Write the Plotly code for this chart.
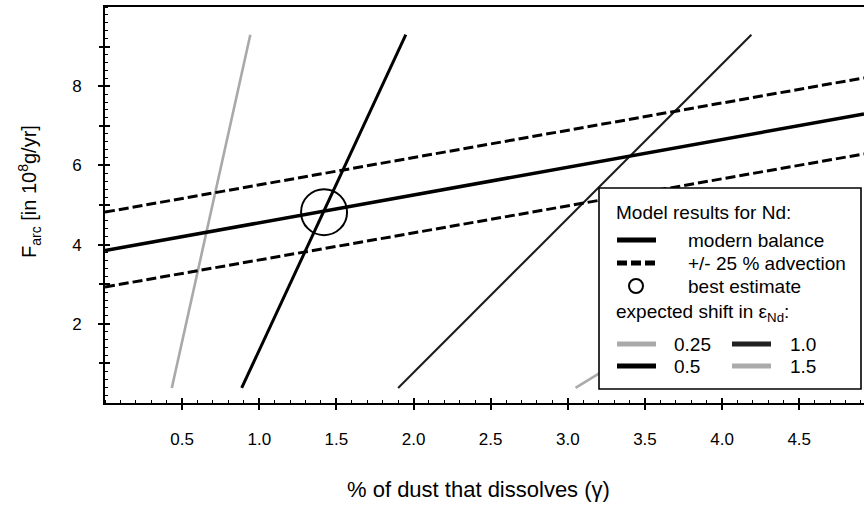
import plotly.graph_objects as go

# Axis extent
x_range = [0.0, 4.92]
y_range = [0.0, 10.0]

# Model results for Nd: flux vs. dissolved dust fraction
balance_x = [0.0, 4.92]
balance_y = [3.85, 7.30]
advect_hi_x = [0.0, 4.92]
advect_hi_y = [4.82, 8.21]
advect_lo_x = [0.0, 4.92]
advect_lo_y = [2.93, 6.29]

best_x = [1.42]
best_y = [4.82]

# Lines of equal expected shift in epsilon Nd
shift_labels = ["0.25", "0.5", "1.0", "1.5"]
shift_x = [[0.433, 0.942], [0.886, 1.95], [1.90, 4.19], [3.05, 4.86]]
shift_y = [[0.38, 9.30], [0.38, 9.30], [0.38, 9.30], [0.38, 4.70]]
shift_color = ["#a9a9a9", "#000000", "#1c1c1c", "#ababab"]
shift_width = [2.6, 3.0, 2.1, 2.6]

x_ticks = [0.5, 1.0, 1.5, 2.0, 2.5, 3.0, 3.5, 4.0, 4.5]
x_ticktext = ["0.5", "1.0", "1.5", "2.0", "2.5", "3.0", "3.5", "4.0", "4.5"]
y_ticks = [2, 4, 6, 8]
y_ticktext = ["2", "4", "6", "8"]
y_ticks_odd = [1, 3, 5, 7, 9]

FONT = "Arial, 'Liberation Sans', Helvetica, sans-serif"
W, H = 864, 505
L, R, T, B = 105, 0, 7, 102
PW, PH = W - L - R, H - T - B


def px(x):
    return (x - L) / PW


def py(y):
    return (H - B - y) / PH


fig = go.Figure()

for xs, ys, col, wd in zip(shift_x, shift_y, shift_color, shift_width):
    fig.add_trace(go.Scatter(x=xs, y=ys, mode="lines",
                             line=dict(color=col, width=wd), hoverinfo="skip"))

fig.add_trace(go.Scatter(x=advect_hi_x, y=advect_hi_y, mode="lines",
                         line=dict(color="black", width=3, dash="10px,4px")))
fig.add_trace(go.Scatter(x=advect_lo_x, y=advect_lo_y, mode="lines",
                         line=dict(color="black", width=3, dash="10px,4px")))
fig.add_trace(go.Scatter(x=balance_x, y=balance_y, mode="lines",
                         line=dict(color="black", width=3.5)))
fig.add_trace(go.Scatter(x=best_x, y=best_y, mode="markers",
                         marker=dict(symbol="circle-open", size=46,
                                     color="black", line=dict(width=2))))

# Invisible traces on overlay axes: inward halves of the major ticks and
# the unlabeled odd ticks on the y axis
fig.add_trace(go.Scatter(x=x_range, y=y_range, xaxis="x2", yaxis="y2",
                         mode="lines", line=dict(width=0), opacity=0,
                         hoverinfo="skip"))
fig.add_trace(go.Scatter(x=x_range, y=y_range, xaxis="x2", yaxis="y3",
                         mode="lines", line=dict(width=0), opacity=0,
                         hoverinfo="skip"))

tick_common = dict(showgrid=False, zeroline=False, showline=False,
                   showticklabels=False, tickwidth=1.5, tickcolor="black",
                   tickmode="array")

fig.update_layout(
    width=W, height=H,
    margin=dict(l=L, r=R, t=T, b=B, autoexpand=False),
    paper_bgcolor="white", plot_bgcolor="white",
    showlegend=False,
    font=dict(family=FONT, color="black"),
    xaxis=dict(
        range=x_range, showgrid=False, zeroline=False,
        showline=True, linecolor="black", linewidth=2, mirror=True,
        tickmode="array", tickvals=x_ticks, ticktext=x_ticktext,
        ticks="outside", ticklen=5, tickwidth=1.5, tickcolor="black",
        tickfont=dict(size=17, family=FONT), ticklabelstandoff=15,
        minor=dict(dtick=0.1, tick0=0, ticks="inside", ticklen=3,
                   tickwidth=1, tickcolor="black", showgrid=False),
    ),
    yaxis=dict(
        range=y_range, showgrid=False, zeroline=False,
        showline=True, linecolor="black", linewidth=2,
        tickmode="array", tickvals=y_ticks, ticktext=y_ticktext,
        ticks="outside", ticklen=5, tickwidth=1.5, tickcolor="black",
        tickfont=dict(size=17, family=FONT), ticklabelstandoff=13,
        minor=dict(dtick=0.2, tick0=0, ticks="inside", ticklen=3,
                   tickwidth=1, tickcolor="black", showgrid=False),
    ),
    xaxis2=dict(range=x_range, overlaying="x", anchor="y2", side="bottom",
                tickvals=x_ticks, ticks="inside", ticklen=5, **tick_common),
    yaxis2=dict(range=y_range, overlaying="y", anchor="x2", side="left",
                tickvals=y_ticks + y_ticks_odd, ticks="inside", ticklen=5,
                **tick_common),
    yaxis3=dict(range=y_range, overlaying="y", anchor="x2", side="left",
                tickvals=y_ticks_odd, ticks="outside", ticklen=5,
                **tick_common),
)

# Axis titles
fig.add_annotation(text="% of dust that dissolves (γ)", xref="paper", yref="paper",
                   x=px(478), y=py(489), xanchor="center", yanchor="middle",
                   showarrow=False, font=dict(size=22, family=FONT))
fig.add_annotation(text="F<sub>arc</sub> [in 10<sup>8</sup>g/yr]", xref="paper",
                   yref="paper", x=px(30), y=py(192), textangle=-90,
                   xanchor="center", yanchor="middle",
                   showarrow=False, font=dict(size=20, family=FONT))

# Legend panel
shapes = [dict(type="rect", xref="paper", yref="paper", layer="above",
               x0=px(599), x1=px(861), y0=py(389), y1=py(188),
               fillcolor="white", line=dict(color="black", width=1.6))]


def sample(x0, x1, yy, color, width, dash="solid"):
    shapes.append(dict(type="line", xref="paper", yref="paper", layer="above",
                       x0=px(x0), x1=px(x1), y0=py(yy), y1=py(yy),
                       line=dict(color=color, width=width, dash=dash)))


def label(text, x, yy):
    fig.add_annotation(text=text, xref="paper", yref="paper", x=px(x), y=py(yy),
                       xanchor="left", yanchor="middle", showarrow=False,
                       font=dict(size=19, family=FONT))


label("Model results for Nd:", 614, 212)
sample(617, 656, 240, "black", 5)
label("modern balance", 686, 240)
sample(617, 656, 263, "black", 5, "10px,4px")
label("+/- 25 % advection", 686, 263)
shapes.append(dict(type="circle", xref="paper", yref="paper", layer="above",
                   x0=px(629), x1=px(643), y0=py(293), y1=py(279),
                   line=dict(color="black", width=2)))
label("best estimate", 686, 286)
label("expected shift in ε<sub>Nd</sub>:", 614, 313)
sample(617, 656, 344, shift_color[0], 5)
label(shift_labels[0], 672, 344)
sample(732, 771, 344, "#222222", 5)
label(shift_labels[2], 788, 344)
sample(617, 656, 366, shift_color[1], 5)
label(shift_labels[1], 672, 366)
sample(732, 771, 366, shift_color[3], 5)
label(shift_labels[3], 788, 366)

fig.update_layout(shapes=shapes)

fig.write_html("out.html")
